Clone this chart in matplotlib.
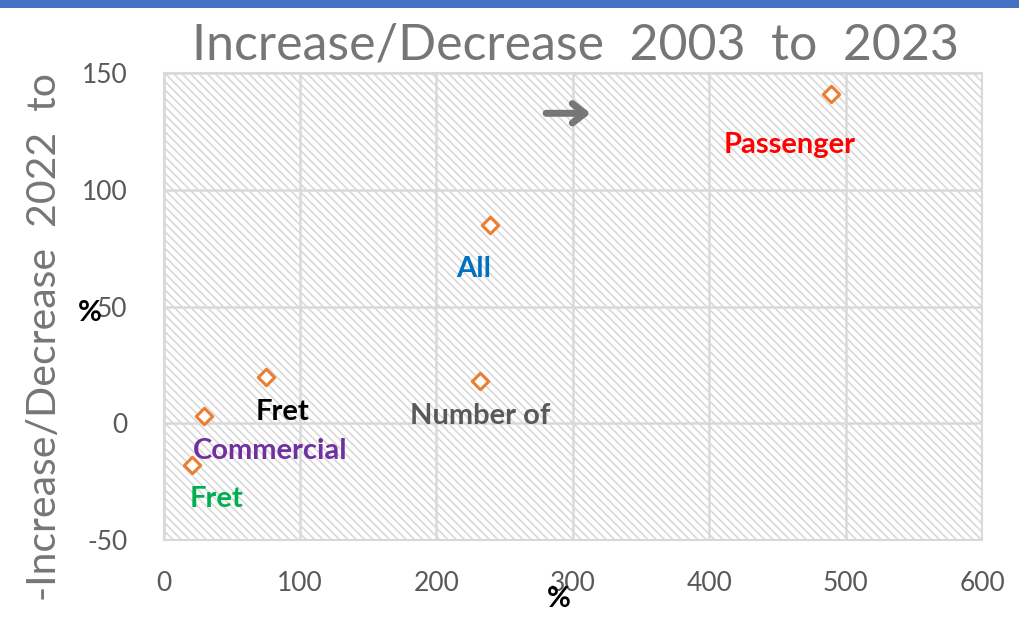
import matplotlib
matplotlib.use("Agg")
import matplotlib.pyplot as plt
from matplotlib.patches import Rectangle

# data
names = ["Passenger", "All", "Number of", "Fret", "Commercial", "Fret"]
x_vals = [489, 239, 232, 75, 30, 21]
y_vals = [141, 85, 18, 20, 3, -18]
label_colors = ["#FF0000", "#0070C0", "#595959", "#000000", "#7030A0", "#00B050"]
# label offsets from point (data units)
label_dx = [-30, -12, 0, 12, 48, 18]
label_dy = [-22, -19, -15, -15, -15, -14.5]

x_ticks = [0, 100, 200, 300, 400, 500, 600]
y_ticks = [-50, 0, 50, 100, 150]

plt.rcParams['font.family'] = ['Lato', 'DejaVu Sans']
plt.rcParams['axes.unicode_minus'] = False
plt.rcParams['hatch.linewidth'] = 1.2
plt.rcParams['hatch.color'] = "#d9d9d9"

fig = plt.figure(figsize=(10.19, 6.36), dpi=100)
ax = fig.add_axes([0.1605, 0.151, 0.8032, 0.734])

# fondo rayado
bg = Rectangle((0, 0), 1, 1, transform=ax.transAxes, facecolor="white",
               edgecolor="#d9d9d9", hatch="\\" * 4, linewidth=0, zorder=0)
ax.add_patch(bg)

ax.set_xlim(0, 600)
ax.set_ylim(-50, 150)
ax.set_xticks(x_ticks)
ax.set_yticks(y_ticks)
ax.grid(True, color="#d9d9d9", linewidth=1.8, zorder=1)
ax.set_axisbelow(True)
for s in ax.spines.values():
    s.set_color("#d9d9d9")
    s.set_linewidth(1.5)
ax.tick_params(length=0, labelsize=19, labelcolor="#595959")
ax.tick_params(axis="x", pad=22)
ax.tick_params(axis="y", pad=26)

ax.scatter(x_vals, y_vals, marker="D", s=70, facecolors="white",
           edgecolors="#ED7D31", linewidths=2.2, zorder=3)

for i in range(len(names)):
    ax.text(x_vals[i] + label_dx[i], y_vals[i] + label_dy[i], names[i],
            color=label_colors[i], fontsize=21, fontweight="bold",
            ha="center", va="center", zorder=4)

ax.annotate("", xy=(0.525, 0.914), xytext=(0.464, 0.914), xycoords="axes fraction",
            arrowprops=dict(arrowstyle="->,head_length=0.9,head_width=0.7",
                            color="#767676", lw=5))

fig.text(0.565, 0.928, "Increase/Decrease  2003  to  2023", fontsize=36,
         color="#767676", ha="center", va="center")
fig.text(0.044, 0.47, "-Increase/Decrease  2022  to", fontsize=29.5,
         color="#767676", ha="center", va="center", rotation=90)
fig.text(0.088, 0.508, "%", fontsize=21, fontweight="bold", color="black",
         ha="center", va="center")
fig.text(0.548, 0.058, "%", fontsize=21, fontweight="bold", color="black",
         ha="center", va="center")

# barra superior
fig.patches.append(Rectangle((0, 0.988), 1, 0.012, transform=fig.transFigure,
                             facecolor="#4472C4", edgecolor="none"))

fig.savefig("out.png", dpi=100)
